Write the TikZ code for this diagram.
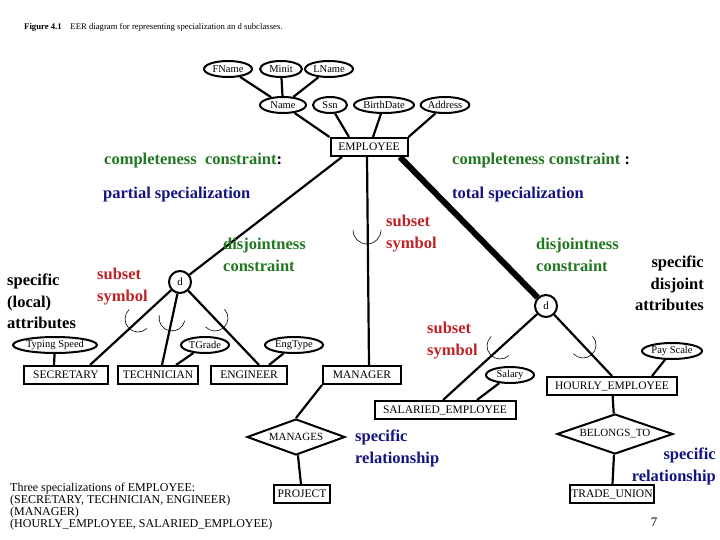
\documentclass[tikz,border=0pt]{standalone}
\usepackage{fontspec}
\setmainfont{Liberation Serif}
\usetikzlibrary{shapes.geometric}
\definecolor{ccgreen}{RGB}{34,120,34}
\definecolor{csblue}{RGB}{20,20,130}
\definecolor{ssred}{RGB}{190,35,40}
\tikzset{
	attr/.style={ellipse, draw, line width=2pt, inner sep=0pt, minimum height=16pt, font=\fontsize{10.5}{11}\selectfont},
	ent/.style={rectangle, draw, line width=2pt, minimum height=18pt, inner sep=1pt, font=\fontsize{11.5}{12}\selectfont},
	rel/.style={diamond, draw, line width=2pt, aspect=2.8, inner sep=0pt, minimum height=36pt, font=\fontsize{11}{12}\selectfont},
	dcirc/.style={circle, draw, line width=2pt, minimum size=22pt, inner sep=0pt, font=\fontsize{11}{12}\selectfont},
	link/.style={line width=2.2pt},
	note/.style={font=\fontsize{16.5}{21.5}\selectfont\bfseries, align=left, anchor=north west, inner sep=0pt},
}
\newcommand{\subarc}[3]{% center, direction angle, radius
	\draw[line width=0.6pt] (#1) ++(#2-90:#3) arc[start angle=#2-90, end angle=#2+90, radius=#3];}
\begin{document}
\begin{tikzpicture}[x=1pt, y=-1pt]
	\useasboundingbox (0,0) rectangle (720,540);
	\node[anchor=west, inner sep=0pt, font=\fontsize{8.7}{9}\selectfont](caption) at (24,27)
		{\textbf{Figure 4.1}\quad EER diagram for representing specialization an d subclasses.};

	%% EMPLOYEE and its attributes
	\node[ent, minimum width=77pt](employee) at (369,147){EMPLOYEE};
	\node[attr, minimum width=48pt](fname) at (228,69){FName};
	\node[attr, minimum width=42pt](minit) at (281,69){Minit};
	\node[attr, minimum width=48pt](lname) at (329,69){LName};
	\node[attr, minimum width=46pt](name) at (283,105){Name};
	\node[attr, minimum width=34pt](ssn) at (330,105){Ssn};
	\node[attr, minimum width=60pt](birth) at (384,105){BirthDate};
	\node[attr, minimum width=48pt](address) at (445,105){Address};

	\draw[link] (fname) -- (name);
	\draw[link] (minit) -- (name);
	\draw[link] (lname) -- (name);
	\draw[link] (name) -- (employee.north west);
	\draw[link] (ssn) -- ([xshift=-20pt]employee.north);
	\draw[link] (birth) -- ([xshift=4pt]employee.north);
	\draw[link] (address) -- (employee.north east);

	%% first specialization
	\node[dcirc](dleft) at (180,282){d};
	\node[ent, minimum width=84pt](secretary) at (66,375){SECRETARY};
	\node[ent, minimum width=80pt](technician) at (158,375){TECHNICIAN};
	\node[ent, minimum width=76pt](engineer) at (249,375){ENGINEER};
	\node[attr, minimum width=84pt](typing) at (55,345){Typing Speed};
	\node[attr, minimum width=48pt](tgrade) at (205,345){TGrade};
	\node[attr, minimum width=58pt](engtype) at (294,345){EngType};

	\draw[link] ([xshift=-27pt]employee.south) -- (dleft);
	\draw[link] (dleft) -- ([xshift=24pt]secretary.north);
	\draw[link] (dleft) -- ([xshift=4pt]technician.north);
	\draw[link] (dleft) -- ([xshift=10pt]engineer.north);
	\draw[link] (typing) -- ([xshift=-12pt]secretary.north);
	\draw[link] (tgrade) -- ([xshift=18pt]technician.north);
	\draw[link] (engtype) -- ([xshift=20pt]engineer.north);
	\subarc{138,319}{137}{13}
	\subarc{172,318}{102}{13}
	\subarc{215,318}{47}{13}

	%% second specialization
	\node[ent, minimum width=78pt](manager) at (362,375){MANAGER};
	\node[rel, minimum width=98pt](manages) at (296,437){MANAGES};
	\node[ent, minimum width=56pt](project) at (302,494){PROJECT};
	\draw[link] ([xshift=-2pt]employee.south) -- (manager.north -| employee.south);
	\draw[link] (manager.south west) -- (manages.north);
	\draw[link] (manages) -- (project);
	\subarc{367,230}{90}{14}

	%% third specialization
	\node[dcirc](dright) at (546,306){d};
	\node[ent, minimum width=130pt](hourly) at (612,386){HOURLY\_EMPLOYEE};
	\node[ent, minimum width=141pt](salaried) at (445,410){SALARIED\_EMPLOYEE};
	\node[attr, minimum width=48pt](salary) at (510,375){Salary};
	\node[attr, minimum width=60pt](payscale) at (672,351){Pay Scale};
	\node[rel, minimum width=116pt, minimum height=40pt](belongs) at (615,434){BELONGS\_TO};
	\node[ent, minimum width=70pt](union) at (612,494){TRADE\_UNION};

	\draw[line width=6pt] ([xshift=31pt]employee.south) -- (dright);
	\draw[link] (dright) -- ([xshift=-2pt]salaried.north);
	\draw[link] (dright) -- (hourly.north);
	\draw[link] (salary) -- ([xshift=32pt]salaried.north);
	\draw[link] (payscale) -- ([xshift=40pt]hourly.north);
	\draw[link] (hourly) -- (belongs);
	\draw[link] (belongs) -- (union);
	\subarc{500,346}{137}{13}
	\subarc{583,345}{47}{13}

	%% annotations
	\node[note, text=ccgreen](cc_left) at (104,153){completeness\ \ constraint\textcolor{black}{:}};
	\node[note, text=ccgreen](cc_right) at (452,153){completeness constraint \textcolor{black}{:}};
	\node[note, text=csblue](partial) at (103,187){partial specialization};
	\node[note, text=csblue](total) at (452,187){total specialization};
	\node[note, text=ccgreen](dj_left) at (223,238){disjointness\\constraint};
	\node[note, text=ccgreen](dj_right) at (536,238){disjointness\\constraint};
	\node[note, text=ssred](ss_mid) at (386,215){subset\\symbol};
	\node[note, text=ssred](ss_left) at (97,268){subset\\symbol};
	\node[note, text=ssred](ss_right) at (427,322){subset\\symbol};
	\node[note](local) at (7,274){specific\\(local)\\attributes};
	\node[note, align=right, anchor=north east](disjattr) at (704,256){specific\\disjoint\\attributes};
	\node[note, text=csblue](rel_mid) at (355,430){specific\\relationship};
	\node[note, text=csblue, align=right, anchor=north east](rel_right) at (716,448){specific\\relationship};

	\node[anchor=north west, inner sep=0pt, align=left, font=\fontsize{12}{11.8}\selectfont](summary) at (10,483)
		{Three specializations of EMPLOYEE:\\(SECRETARY, TECHNICIAN, ENGINEER)\\(MANAGER)\\(HOURLY\_EMPLOYEE, SALARIED\_EMPLOYEE)};
	\node[font=\fontsize{13}{14}\selectfont](pagenum) at (654,522){7};
\end{tikzpicture}
\end{document}
